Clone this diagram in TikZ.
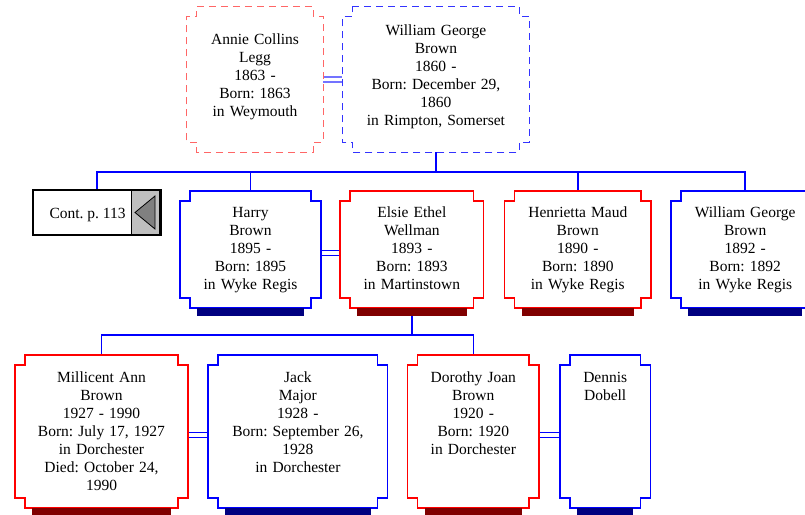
\documentclass[tikz,border=0pt]{standalone}
\usepackage{fontspec}
\setmainfont{Liberation Serif}
\frenchspacing
\usetikzlibrary{positioning}
\newcommand\pframe[2][]{%
	\draw[#1]([xshift=10pt]#2.north west)--([xshift=-10pt]#2.north east)--++(0pt,-10pt)--++(10pt,0pt)--([yshift=10pt]#2.south east)--++(-10pt,0pt)--++(0pt,-10pt)--([xshift=10pt]#2.south west)--++(0pt,10pt)--++(-10pt,0pt)--([yshift=-10pt]#2.north west)--++(10pt,0pt)--cycle;}
\begin{document}
\begin{tikzpicture}[x=1pt,y=-1pt,line join=miter,
		person/.style 2 args={rectangle,inner sep=0pt,minimum width=#1,minimum height=#2},
		ptext/.style={anchor=base,inner sep=0pt,align=center,text width=#1,font=\fontsize{15.5}{18}\selectfont},
		tree/.style={draw=blue,line width=1.6pt},
		couple/.style={draw=#1,line width=1.6pt,double=white,double distance=3.2pt},
		gframe/.style={draw=#1,line width=1.3pt,dash pattern=on 7pt off 5pt},
		frame/.style={draw=#1,line width=1.6pt}]
	\useasboundingbox(0,0)rectangle(805,514);
	\clip(0,0)rectangle(805,514);
	\node[person={136pt}{145pt}](annie) at (255,79.5){};
	\node[person={187pt}{145pt},right=19pt of annie](wgb){};
	\node[person={141pt}{117pt}](harry) at (250.5,249.5){};
	\node[person={143pt}{117pt},right=19pt of harry](elsie){};
	\node[person={146pt}{117pt},right=21pt of elsie](henrietta){};
	\node[person={148pt}{117pt},right=20pt of henrietta](wjr){};
	\node[person={173pt}{153pt}](millicent) at (101.5,431.5){};
	\node[person={179pt}{153pt},right=20pt of millicent](jack){};
	\node[person={131pt}{153pt},right=20pt of jack](dorothy){};
	\node[person={90pt}{153pt},right=21pt of dorothy](dennis){};
	\node[person={128pt}{45pt}](cont) at (97,212.5){};
	
	\node[ptext=130pt] (annie-t) at ([yshift=-38pt]annie.north){Annie Collins\\Legg\\1863 -\\Born: 1863\\in Weymouth};
	\node[ptext=180pt] (wgb-t) at ([yshift=-29pt]wgb.north){William George\\Brown\\1860 -\\Born: December 29,\\1860\\in Rimpton, Somerset};
	\node[ptext=136pt] (harry-t) at ([yshift=-27pt]harry.north){Harry\\Brown\\1895 -\\Born: 1895\\in Wyke Regis};
	\node[ptext=138pt] (elsie-t) at ([yshift=-27pt]elsie.north){Elsie Ethel\\Wellman\\1893 -\\Born: 1893\\in Martinstown};
	\node[ptext=140pt] (henrietta-t) at ([yshift=-27pt]henrietta.north){Henrietta Maud\\Brown\\1890 -\\Born: 1890\\in Wyke Regis};
	\node[ptext=140pt] (wjr-t) at ([yshift=-27pt]wjr.north){William George\\Brown\\1892 -\\Born: 1892\\in Wyke Regis};
	\node[ptext=168pt] (millicent-t) at ([yshift=-28pt]millicent.north){Millicent Ann\\Brown\\1927 - 1990\\Born: July 17, 1927\\in Dorchester\\Died: October 24,\\1990};
	\node[ptext=174pt] (jack-t) at ([yshift=-28pt]jack.north){Jack\\Major\\1928 -\\Born: September 26,\\1928\\in Dorchester};
	\node[ptext=126pt] (dorothy-t) at ([yshift=-28pt]dorothy.north){Dorothy Joan\\Brown\\1920 -\\Born: 1920\\in Dorchester};
	\node[ptext=86pt] (dennis-t) at ([yshift=-28pt]dennis.north){Dennis\\Dobell};
	
	\coordinate (bar1) at (0,172);
	\coordinate (bar2) at (0,335);
	\draw[tree](wgb.south)--(wgb.south|-bar1);
	\draw[tree](cont.north)--(cont.north|-bar1)-|(wjr.north);
	\foreach \n in {harry,henrietta}
		\draw[tree](\n.north)--(\n.north|-bar1);
	\draw[tree](elsie.south)--(elsie.south|-bar2);
	\draw[tree](millicent.north)--(millicent.north|-bar2)-|(dorothy.north);
	
	\draw[couple=blue!55](annie.east)--(wgb.west);
	\foreach \a/\b in {harry/elsie,millicent/jack,dorothy/dennis}
		\draw[couple=blue]([yshift=-3.5pt]\a.east)--([yshift=-3.5pt]\b.west);
	
	\pframe[gframe=red!60]{annie}
	\pframe[gframe=blue!80]{wgb}
	\foreach \n/\c in {harry/blue,elsie/red,henrietta/red,wjr/blue,millicent/red,jack/blue,dorothy/red,dennis/blue}{
		\pframe[frame=\c]{\n}
		\fill[\c!50!black]([xshift=17pt]\n.south west)rectangle([xshift=-17pt,yshift=-8pt]\n.south east);
	}
	
	\node[anchor=east,fill=black!25,inner sep=0pt,minimum width=29pt,minimum height=45pt](cont-btn) at (cont.east){};
	\draw[line width=1pt](cont-btn.north west)--(cont-btn.south west);
	\draw[fill=black!50,line width=0.8pt]([xshift=-11.5pt]cont-btn.center)--([xshift=8.5pt,yshift=16.5pt]cont-btn.center)--([xshift=8.5pt,yshift=-16.5pt]cont-btn.center)--cycle;
	\draw[line width=1.5pt](cont.north west)rectangle(cont.south east);
	\draw[line width=2.5pt]([xshift=-0.5pt]cont.north east)--([xshift=-0.5pt]cont.south east);
	\node[anchor=base east,inner sep=0pt,font=\fontsize{15.5}{18}\selectfont](cont-t) at ([xshift=-6pt,yshift=-5.5pt]cont-btn.west){Cont. p. 113};
\end{tikzpicture}
\end{document}
